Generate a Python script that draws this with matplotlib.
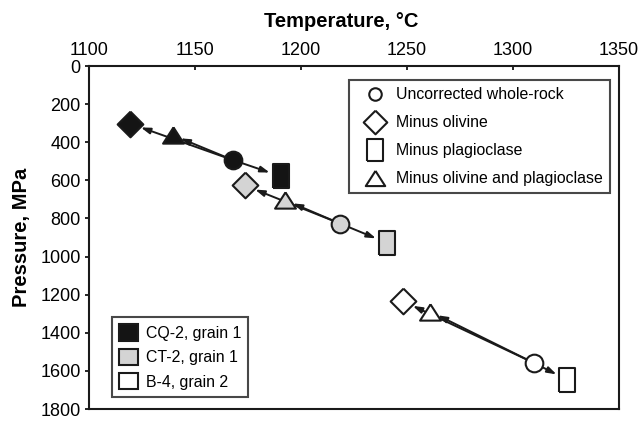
import matplotlib
matplotlib.use('Agg')
import matplotlib.pyplot as plt
from matplotlib.lines import Line2D
from matplotlib.patches import Patch

plt.rcParams['font.family'] = ['Liberation Sans', 'DejaVu Sans']

# order of each sample: uncorrected, minus olivine, minus plagioclase, minus ol+plag
samples = ['CQ-2, grain 1', 'CT-2, grain 1', 'B-4, grain 2']
cq2_T = [1168, 1119.5, 1190.5, 1139.5]
cq2_P = [494, 303, 579, 363]
ct2_T = [1218.5, 1173.5, 1240.5, 1192.5]
ct2_P = [827, 627, 928, 704]
b4_T = [1310, 1248, 1325.5, 1261]
b4_P = [1559, 1234, 1646, 1289]
fills = ['#141414', '#d4d4d4', 'white']
corr_labels = ['Uncorrected whole-rock', 'Minus olivine', 'Minus plagioclase',
               'Minus olivine and plagioclase']

edge = '#1a1a1a'
rect_m = [(-0.7, -1), (0.7, -1), (0.7, 1), (-0.7, 1), (-0.7, -1)]
diam_m = [(0, 1), (1, 0), (0, -1), (-1, 0), (0, 1)]
tri_m = [(0, 0.78), (1, -0.78), (-1, -0.78), (0, 0.78)]
markers = ['o', diam_m, rect_m, tri_m]
msizes = [12.7, 18.5, 17, 15]
leg_sizes = [9, 17, 16.5, 14]
shrinks = [0, 8, 8.5, 6]

fig = plt.figure(figsize=(6.42, 4.25), dpi=100)
ax = fig.add_axes([89 / 642, 1 - 409 / 425, (619 - 89) / 642, (409 - 66) / 425])

for T, P, fc in zip([cq2_T, ct2_T, b4_T], [cq2_P, ct2_P, b4_P], fills):
    # arrows from the uncorrected point to each corrected point
    for k in [3, 1, 2]:
        ax.annotate('', xy=(T[k], P[k]), xytext=(T[0], P[0]),
                    arrowprops=dict(arrowstyle='-|>,head_length=0.55,head_width=0.18',
                                    color=edge, lw=1.4, shrinkA=0, shrinkB=shrinks[k]),
                    zorder=2)
    for k in range(4):
        ax.plot(T[k], P[k], marker=markers[k], ms=msizes[k], mfc=fc, mec=edge,
                mew=1.5, ls='none', zorder=3)

ax.set_xlim(1100, 1350)
ax.set_ylim(1800, 0)
ax.set_xticks([1100, 1150, 1200, 1250, 1300, 1350])
ax.set_yticks(range(0, 1801, 200))
ax.xaxis.tick_top()
ax.xaxis.set_label_position('top')
ax.tick_params(axis='x', direction='in', length=3, width=1.2, labelsize=13, pad=5)
ax.tick_params(axis='y', direction='out', length=3, width=1.2, labelsize=13, pad=3)
ax.set_xlabel('Temperature, °C', fontsize=14.5, fontweight='bold', labelpad=9)
ax.xaxis.set_label_coords(0.475, 1.115)
ax.set_ylabel('Pressure, MPa', fontsize=14.5, fontweight='bold', labelpad=7)
for s in ax.spines.values():
    s.set_linewidth(1.5)
    s.set_color(edge)

h1 = [Line2D([], [], marker=markers[k], ms=leg_sizes[k], mfc='white', mec=edge,
             mew=1.5, ls='none') for k in range(4)]
leg1 = ax.legend(h1, corr_labels, loc='upper right', bbox_to_anchor=(0.983, 0.959),
                 fontsize=11.4, frameon=True, fancybox=False, handlelength=2.3,
                 handletextpad=0.2, labelspacing=0.82, borderpad=0.45, borderaxespad=0)
leg1.get_frame().set_edgecolor(edge)
leg1.get_frame().set_linewidth(1.5)
ax.add_artist(leg1)

h2 = [Patch(facecolor=fc, edgecolor=edge, linewidth=1.5) for fc in fills]
leg2 = ax.legend(h2, samples, loc='lower left', bbox_to_anchor=(0.043, 0.036),
                 fontsize=11.4, frameon=True, fancybox=False, handlelength=1.2,
                 handleheight=1.2, handletextpad=0.5, labelspacing=0.5,
                 borderpad=0.45, borderaxespad=0)
leg2.get_frame().set_edgecolor(edge)
leg2.get_frame().set_linewidth(1.5)

fig.savefig('out.png', dpi=100)
